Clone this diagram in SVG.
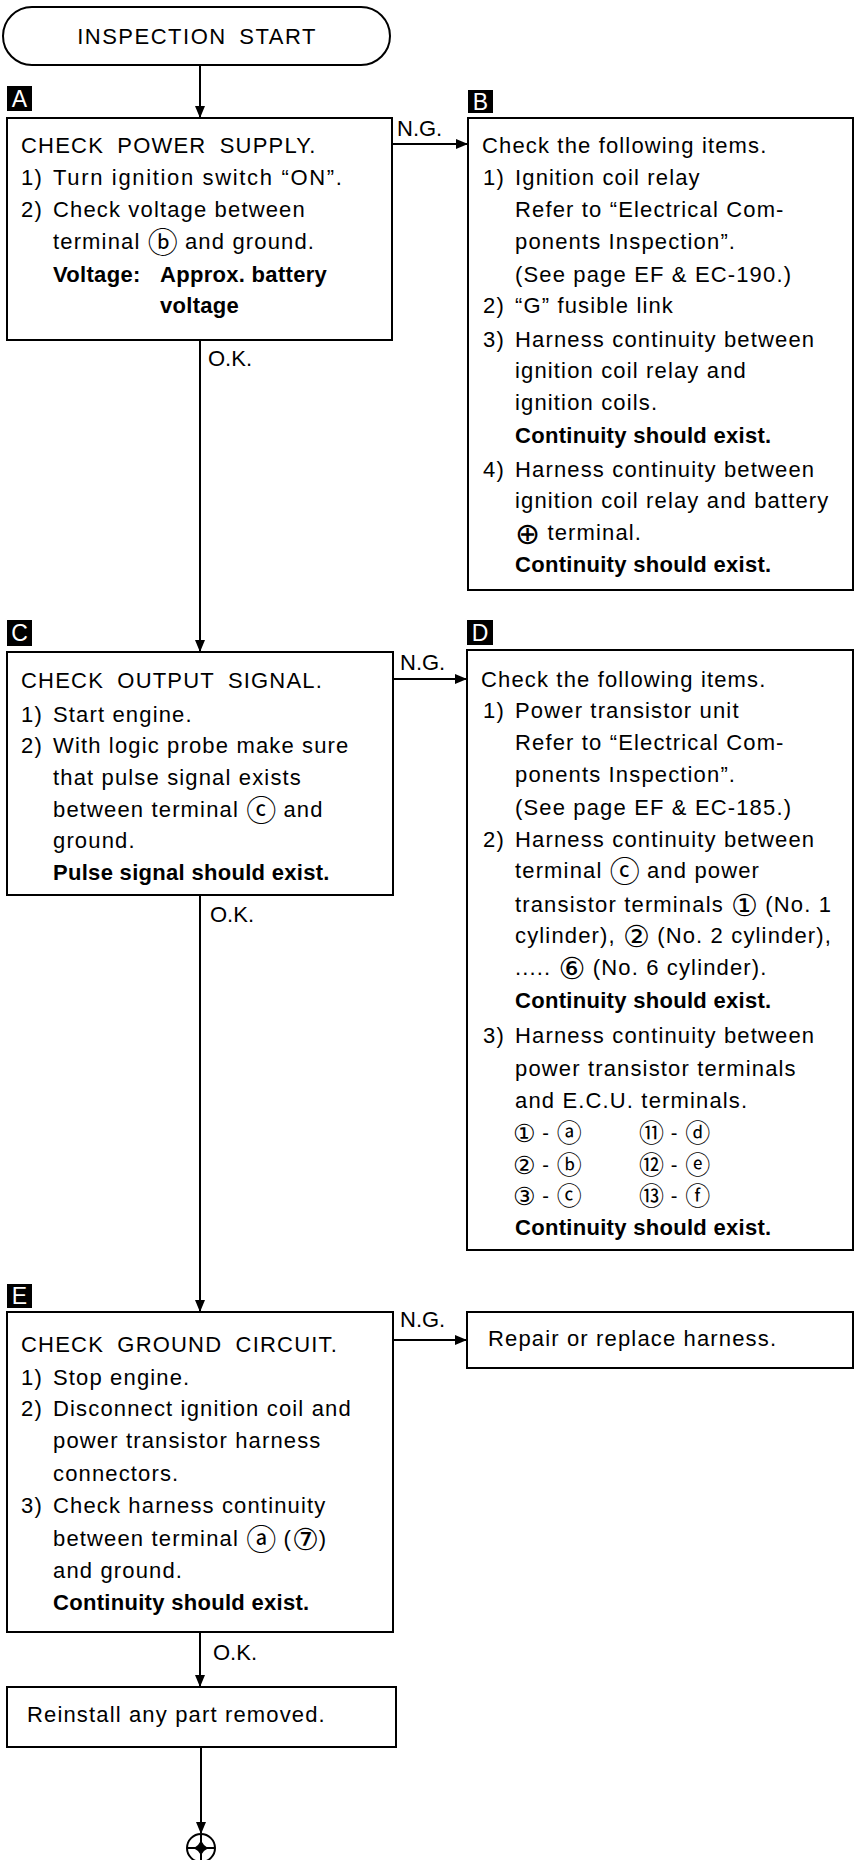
<svg xmlns="http://www.w3.org/2000/svg" width="857" height="1860" viewBox="0 0 857 1860">
<defs>
<style>
.box{fill:#fff;stroke:#000;stroke-width:2}
.t{font-family:"Liberation Sans","DejaVu Sans",sans-serif;font-size:22px;letter-spacing:1.15px;fill:#000}
.b{font-weight:bold;letter-spacing:0.3px}
.h{letter-spacing:1.2px;word-spacing:6px}
.lab{font-family:"Liberation Sans","DejaVu Sans",sans-serif;font-size:22px;fill:#000}
.tag{fill:#000}
.tagt{font-family:"Liberation Sans","DejaVu Sans",sans-serif;font-size:23px;fill:#fff;text-anchor:middle}
.ln{stroke:#000;stroke-width:2;fill:none}
.c{font-family:"DejaVu Sans","Noto Sans CJK JP",sans-serif;font-size:30px;baseline-shift:-4px;letter-spacing:0}
.c2{font-family:"DejaVu Sans","Noto Sans CJK JP",sans-serif;font-size:25px;baseline-shift:-2px;letter-spacing:0}
.tb{font-size:20px}
</style>
<marker id="ah" markerWidth="12" markerHeight="10" refX="11" refY="5" orient="auto" markerUnits="userSpaceOnUse">
<path d="M0,0 L12,5 L0,10 Z" fill="#000"/>
</marker>
</defs>
<rect width="857" height="1860" fill="#fff"/>

<g id="connectors">
<line class="ln" x1="200" y1="65" x2="200" y2="117" marker-end="url(#ah)"/>
<line class="ln" x1="392" y1="144" x2="467" y2="144" marker-end="url(#ah)"/>
<text class="lab" x="397" y="136">N.G.</text>
<line class="ln" x1="200" y1="340" x2="200" y2="651" marker-end="url(#ah)"/>
<text class="lab" x="208" y="366">O.K.</text>
<line class="ln" x1="393" y1="679" x2="466" y2="679" marker-end="url(#ah)"/>
<text class="lab" x="400" y="670">N.G.</text>
<line class="ln" x1="200" y1="895" x2="200" y2="1311" marker-end="url(#ah)"/>
<text class="lab" x="210" y="922">O.K.</text>
<line class="ln" x1="393" y1="1340" x2="466" y2="1340" marker-end="url(#ah)"/>
<text class="lab" x="400" y="1327">N.G.</text>
<line class="ln" x1="200" y1="1632" x2="200" y2="1686" marker-end="url(#ah)"/>
<text class="lab" x="213" y="1660">O.K.</text>
<line class="ln" x1="201" y1="1747" x2="201" y2="1833" marker-end="url(#ah)"/>
</g>

<g id="start">
<rect class="box" x="3" y="7" width="387" height="58" rx="29"/>
<text class="t" x="197" y="44" text-anchor="middle" style="letter-spacing:1.5px;word-spacing:5px">INSPECTION START</text>
</g>

<g id="nodeA">
<rect class="tag" x="7" y="86" width="25" height="25"/>
<text class="tagt" x="19.5" y="107">A</text>
<rect class="box" x="7" y="118" width="385" height="222"/>
<text class="t h" x="21" y="153">CHECK POWER SUPPLY.</text>
<text class="t" x="21" y="185">1)</text>
<text class="t" x="53" y="185" textLength="290" lengthAdjust="spacing">Turn ignition switch “ON”.</text>
<text class="t" x="21" y="217">2)</text>
<text class="t" x="53" y="217">Check voltage between</text>
<text class="t" x="53" y="249">terminal <tspan class="c">ⓑ</tspan> and ground.</text>
<text class="t b" x="53" y="282">Voltage:</text>
<text class="t b" x="160" y="282">Approx. battery</text>
<text class="t b" x="160" y="313">voltage</text>
</g>

<g id="nodeB">
<rect class="tag" x="468" y="90" width="25" height="23"/>
<text class="tagt" x="480.5" y="110">B</text>
<rect class="box" x="468" y="118" width="385" height="472"/>
<text class="t" x="482" y="153">Check the following items.</text>
<text class="t" x="483" y="185">1)</text>
<text class="t" x="515" y="185">Ignition coil relay</text>
<text class="t" x="515" y="217">Refer to “Electrical Com-</text>
<text class="t" x="515" y="249">ponents Inspection”.</text>
<text class="t" x="515" y="282">(See page EF &amp; EC-190.)</text>
<text class="t" x="483" y="313">2)</text>
<text class="t" x="515" y="313">“G” fusible link</text>
<text class="t" x="483" y="347">3)</text>
<text class="t" x="515" y="347">Harness continuity between</text>
<text class="t" x="515" y="378">ignition coil relay and</text>
<text class="t" x="515" y="410">ignition coils.</text>
<text class="t b" x="515" y="443">Continuity should exist.</text>
<text class="t" x="483" y="477">4)</text>
<text class="t" x="515" y="477">Harness continuity between</text>
<text class="t" x="515" y="508">ignition coil relay and battery</text>
<text class="t" x="515" y="540"><tspan class="c">⊕</tspan> terminal.</text>
<text class="t b" x="515" y="572">Continuity should exist.</text>
</g>

<g id="nodeC">
<rect class="tag" x="7" y="620" width="25" height="26"/>
<text class="tagt" x="19.5" y="641">C</text>
<rect class="box" x="7" y="652" width="386" height="243"/>
<text class="t h" x="21" y="688">CHECK OUTPUT SIGNAL.</text>
<text class="t" x="21" y="722">1)</text>
<text class="t" x="53" y="722">Start engine.</text>
<text class="t" x="21" y="753">2)</text>
<text class="t" x="53" y="753">With logic probe make sure</text>
<text class="t" x="53" y="785">that pulse signal exists</text>
<text class="t" x="53" y="817">between terminal <tspan class="c">ⓒ</tspan> and</text>
<text class="t" x="53" y="848">ground.</text>
<text class="t b" x="53" y="880">Pulse signal should exist.</text>
</g>

<g id="nodeD">
<rect class="tag" x="467" y="620" width="26" height="25"/>
<text class="tagt" x="480" y="641">D</text>
<rect class="box" x="467" y="650" width="386" height="600"/>
<text class="t" x="481" y="687">Check the following items.</text>
<text class="t" x="483" y="718">1)</text>
<text class="t" x="515" y="718">Power transistor unit</text>
<text class="t" x="515" y="750">Refer to “Electrical Com-</text>
<text class="t" x="515" y="782">ponents Inspection”.</text>
<text class="t" x="515" y="815">(See page EF &amp; EC-185.)</text>
<text class="t" x="483" y="847">2)</text>
<text class="t" x="515" y="847">Harness continuity between</text>
<text class="t" x="515" y="878">terminal <tspan class="c">ⓒ</tspan> and power</text>
<text class="t" x="515" y="912">transistor terminals <tspan class="c">①</tspan> (No. 1</text>
<text class="t" x="515" y="943">cylinder), <tspan class="c">②</tspan> (No. 2 cylinder),</text>
<text class="t" x="515" y="975">..... <tspan class="c">⑥</tspan>  (No. 6 cylinder).</text>
<text class="t b" x="515" y="1008">Continuity should exist.</text>
<text class="t" x="483" y="1043">3)</text>
<text class="t" x="515" y="1043">Harness continuity between</text>
<text class="t" x="515" y="1076">power transistor terminals</text>
<text class="t" x="515" y="1108">and E.C.U. terminals.</text>
<text class="t tb" x="513" y="1140"><tspan class="c2">①</tspan> - <tspan class="c2">ⓐ</tspan></text>
<text class="t tb" x="639" y="1140"><tspan class="c2">⑪</tspan> - <tspan class="c2">ⓓ</tspan></text>
<text class="t tb" x="513" y="1172"><tspan class="c2">②</tspan> - <tspan class="c2">ⓑ</tspan></text>
<text class="t tb" x="639" y="1172"><tspan class="c2">⑫</tspan> - <tspan class="c2">ⓔ</tspan></text>
<text class="t tb" x="513" y="1203"><tspan class="c2">③</tspan> - <tspan class="c2">ⓒ</tspan></text>
<text class="t tb" x="639" y="1203"><tspan class="c2">⑬</tspan> - <tspan class="c2">ⓕ</tspan></text>
<text class="t b" x="515" y="1235">Continuity should exist.</text>
</g>

<g id="nodeE">
<rect class="tag" x="7" y="1284" width="25" height="24"/>
<text class="tagt" x="19.5" y="1304">E</text>
<rect class="box" x="7" y="1312" width="386" height="320"/>
<text class="t h" x="21" y="1352">CHECK GROUND CIRCUIT.</text>
<text class="t" x="21" y="1385">1)</text>
<text class="t" x="53" y="1385">Stop engine.</text>
<text class="t" x="21" y="1416">2)</text>
<text class="t" x="53" y="1416">Disconnect ignition coil and</text>
<text class="t" x="53" y="1448">power transistor harness</text>
<text class="t" x="53" y="1481">connectors.</text>
<text class="t" x="21" y="1513">3)</text>
<text class="t" x="53" y="1513">Check harness continuity</text>
<text class="t" x="53" y="1546">between terminal <tspan class="c">ⓐ</tspan> (<tspan class="c">⑦</tspan>)</text>
<text class="t" x="53" y="1578">and ground.</text>
<text class="t b" x="53" y="1610">Continuity should exist.</text>
</g>

<g id="repair">
<rect class="box" x="467" y="1312" width="386" height="56"/>
<text class="t" x="488" y="1346">Repair or replace harness.</text>
</g>

<g id="reinstall">
<rect class="box" x="7" y="1687" width="389" height="60"/>
<text class="t" x="27" y="1722">Reinstall any part removed.</text>
</g>

<g id="end">
<circle cx="201" cy="1848" r="14" fill="#fff" stroke="#000" stroke-width="2"/>
<line class="ln" x1="187" y1="1848" x2="215" y2="1848" stroke-width="1.5"/>
<line class="ln" x1="201" y1="1834" x2="201" y2="1862" stroke-width="1.5"/>
<path d="M201,1839 Q202.5,1846.5 210,1848 Q202.5,1849.5 201,1857 Q199.5,1849.5 192,1848 Q199.5,1846.5 201,1839 Z" fill="#000"/>
</g>
</svg>
